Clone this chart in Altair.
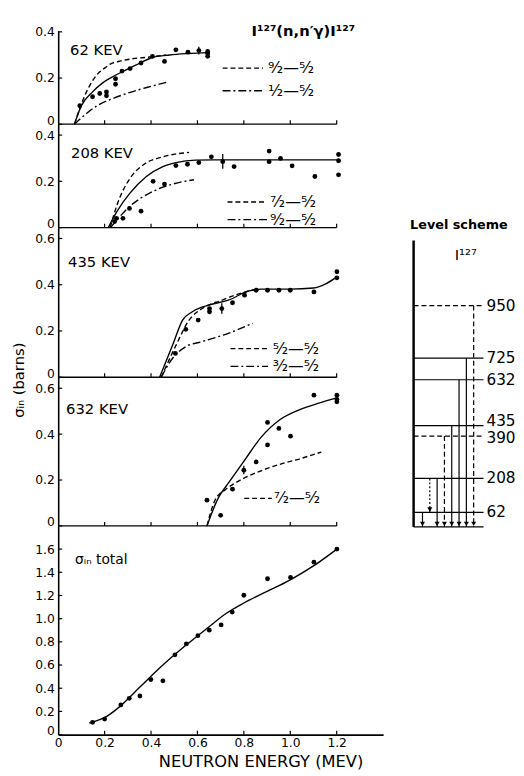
import altair as alt
import pandas as pd

FONT = "DejaVu Sans"
INK = "black"

# ---------------- data (E in MeV, sigma in barns) ----------------
# Panel 1 : 62 keV level
p1_pts_E = [0.093, 0.148, 0.179, 0.208, 0.208, 0.247, 0.247, 0.275, 0.310, 0.357, 0.406, 0.458, 0.507, 0.559, 0.606, 0.644, 0.644, 0.644]
p1_pts_s = [0.080, 0.119, 0.133, 0.140, 0.123, 0.197, 0.173, 0.230, 0.241, 0.265, 0.294, 0.272, 0.322, 0.312, 0.319, 0.315, 0.294, 0.306]
p1_err_E, p1_err_lo, p1_err_hi = [0.606], [0.302], [0.336]
p1_fit_E = [0.07, 0.10, 0.148, 0.19, 0.226, 0.282, 0.352, 0.41, 0.48, 0.56, 0.65]
p1_fit_s = [0.0, 0.08, 0.14, 0.178, 0.201, 0.23, 0.265, 0.29, 0.30, 0.306, 0.31]
p1_a_E = [0.07, 0.09, 0.113, 0.14, 0.169, 0.20, 0.226, 0.27, 0.31, 0.394, 0.465]
p1_a_s = [0.0, 0.06, 0.12, 0.175, 0.217, 0.243, 0.261, 0.274, 0.282, 0.291, 0.30]
p1_b_E = [0.07, 0.12, 0.169, 0.24, 0.31, 0.381, 0.472]
p1_b_s = [0.0, 0.045, 0.081, 0.113, 0.138, 0.159, 0.183]

# Panel 2 : 208 keV level
p2_pts_E = [0.243, 0.251, 0.279, 0.307, 0.357, 0.409, 0.458, 0.507, 0.557, 0.606, 0.660, 0.709, 0.758, 0.909, 0.909, 0.958, 1.008, 1.106, 1.208, 1.208, 1.208]
p2_pts_s = [0.026, 0.040, 0.040, 0.083, 0.071, 0.200, 0.188, 0.268, 0.274, 0.281, 0.306, 0.285, 0.264, 0.331, 0.285, 0.299, 0.267, 0.221, 0.316, 0.289, 0.228]
p2_err_E, p2_err_lo, p2_err_hi = [0.709], [0.254], [0.318]
p2_fit_E = [0.216, 0.254, 0.31, 0.38, 0.451, 0.507, 0.592, 0.70, 0.90, 1.21]
p2_fit_s = [0.0, 0.071, 0.15, 0.221, 0.264, 0.281, 0.292, 0.293, 0.293, 0.293]
p2_a_E = [0.224, 0.254, 0.31, 0.366, 0.451, 0.564]
p2_a_s = [0.0, 0.10, 0.214, 0.271, 0.306, 0.325]
p2_b_E = [0.225, 0.31, 0.409, 0.493, 0.585]
p2_b_s = [0.0, 0.093, 0.157, 0.188, 0.207]

# Panel 3 : 435 keV level
p3_pts_E = [0.505, 0.550, 0.603, 0.652, 0.652, 0.705, 0.751, 0.803, 0.853, 0.902, 0.951, 1.000, 1.102, 1.201, 1.201]
p3_pts_s = [0.103, 0.207, 0.247, 0.297, 0.283, 0.297, 0.322, 0.355, 0.376, 0.376, 0.376, 0.376, 0.369, 0.456, 0.430]
p3_err_E, p3_err_lo, p3_err_hi = [0.705], [0.275], [0.320]
p3_fit_E = [0.437, 0.493, 0.536, 0.578, 0.649, 0.733, 0.818, 0.874, 1.0, 1.10, 1.155, 1.201]
p3_fit_s = [0.0, 0.139, 0.247, 0.283, 0.312, 0.333, 0.372, 0.381, 0.381, 0.386, 0.405, 0.434]
p3_a_E = [0.444, 0.508, 0.564, 0.62, 0.705, 0.796, 0.85]
p3_a_s = [0.0, 0.139, 0.247, 0.297, 0.333, 0.366, 0.38]
p3_b_E = [0.444, 0.493, 0.55, 0.62, 0.733, 0.838]
p3_b_s = [0.0, 0.082, 0.132, 0.154, 0.19, 0.233]

# Panel 4 : 632 keV level
p4_pts_E = [0.641, 0.700, 0.751, 0.800, 0.853, 0.902, 0.902, 0.951, 1.001, 1.102, 1.201, 1.201, 1.201]
p4_pts_s = [0.112, 0.046, 0.160, 0.243, 0.279, 0.451, 0.353, 0.425, 0.391, 0.570, 0.570, 0.551, 0.541]
p4_err_E, p4_err_lo, p4_err_hi = [0.800], [0.225], [0.262]
p4_fit_E = [0.641, 0.69, 0.733, 0.803, 0.874, 0.958, 1.043, 1.127, 1.201]
p4_fit_s = [0.0, 0.122, 0.186, 0.286, 0.386, 0.465, 0.508, 0.536, 0.558]
p4_a_E = [0.641, 0.677, 0.719, 0.761, 0.846, 0.944, 1.043, 1.134]
p4_a_s = [0.0, 0.115, 0.157, 0.186, 0.229, 0.265, 0.293, 0.322]

# Panel 5 : total inelastic cross section
p5_pts_E = [0.148, 0.200, 0.270, 0.306, 0.352, 0.399, 0.451, 0.503, 0.552, 0.602, 0.651, 0.702, 0.750, 0.800, 0.902, 1.001, 1.102, 1.201]
p5_pts_s = [0.106, 0.134, 0.256, 0.313, 0.333, 0.475, 0.464, 0.688, 0.782, 0.853, 0.901, 0.946, 1.057, 1.202, 1.344, 1.356, 1.487, 1.600]
p5_fit_E = [0.134, 0.211, 0.27, 0.352, 0.451, 0.55, 0.65, 0.72, 0.80, 0.90, 1.00, 1.10, 1.201]
p5_fit_s = [0.10, 0.16, 0.25, 0.41, 0.60, 0.77, 0.93, 1.04, 1.135, 1.235, 1.335, 1.455, 1.60]

x_ticks = [0, 0.2, 0.4, 0.6, 0.8, 1.0, 1.2]

# Level scheme of I-127 (keV)
lev_E = [0, 62, 208, 390, 435, 632, 725, 950]
lev_dashed = [False, False, False, True, False, False, False, True]
lev_label = ["", "62", "208", "390", "435", "632", "725", "950"]
tr_lane = [0, 1, 2, 3, 4, 5, 6, 7]
tr_from = [62, 208, 208, 390, 435, 632, 725, 950]
tr_to = [0, 62, 0, 0, 0, 0, 0, 0]
tr_style = ["solid", "dotted", "solid", "dashed", "solid", "solid", "solid", "dashed"]

# ---------------- helpers ----------------
ONE = pd.DataFrame({"k": [0]})
DASH = [5, 3]
DASHDOT = [8, 3, 2, 3]
LBL = "datum.value == 0 ? '0' : format(datum.value, '.1f')"
ZERO_BASE = {"condition": {"test": "datum.value == 0", "value": "alphabetic"}, "value": "middle"}
W = 330


def text(t, x, y, size=15, align="left", angle=0, weight="normal"):
    return alt.Chart(ONE).mark_text(
        text=t, align=align, baseline="middle", font=FONT, fontSize=size,
        color=INK, angle=angle, fontWeight=weight,
    ).encode(x=alt.value(x), y=alt.value(y))


def sample(x1, x2, y, dash):
    return alt.Chart(ONE).mark_rule(color=INK, strokeWidth=1.3, strokeDash=dash).encode(
        x=alt.value(x1), x2=alt.value(x2), y=alt.value(y))


def panel(pE, ps, curves, err, ytop, yvals, height, bottom, extras):
    xs = alt.Scale(domain=[0, 1.4], nice=False)
    ys = alt.Scale(domain=[0, ytop], nice=False)
    if bottom:
        xax = alt.Axis(values=x_ticks, title=None, ticks=False, labelPadding=2, labelFlush=False,
                       domainColor=INK, domainWidth=1.6, grid=False, labelExpr=LBL,
                       labelFont=FONT, labelFontSize=12.5, labelColor=INK)
    else:
        xax = None
    yax = alt.Axis(values=yvals, title=None, ticks=False, labelPadding=4, domainColor=INK,
                   domainWidth=1.6, grid=False, labelExpr=LBL, labelFont=FONT,
                   labelFontSize=12.5, labelColor=INK, labelFlush=False,
                   labelBaseline=ZERO_BASE)

    def X(f):
        return alt.X(f"{f}:Q", scale=xs, axis=xax)

    def Y(f):
        return alt.Y(f"{f}:Q", scale=ys, axis=yax)

    layers = []
    if not bottom:
        base = pd.DataFrame({"E": [0.0], "E2": [1.2], "s": [0.0]})
        layers.append(alt.Chart(base).mark_rule(color=INK, strokeWidth=1.3).encode(
            x=X("E"), x2="E2:Q", y=Y("s")))
    # small inward tick marks on both axes
    layers.append(alt.Chart(pd.DataFrame({"s": yvals})).mark_rule(color=INK, strokeWidth=1.2).encode(
        x=alt.value(0), x2=alt.value(4), y=Y("s")))
    layers.append(alt.Chart(pd.DataFrame({"E": x_ticks[1:]})).mark_rule(color=INK, strokeWidth=1.2).encode(
        x=X("E"), y=alt.value(height), y2=alt.value(height - 4)))
    for cE, cs, dash in curves:
        df = pd.DataFrame({"E": cE, "s": cs})
        kw = {"strokeDash": dash} if dash else {}
        layers.append(alt.Chart(df).mark_line(color=INK, strokeWidth=1.4,
                                              interpolate="monotone", **kw).encode(x=X("E"), y=Y("s")))
    if err:
        edf = pd.DataFrame({"E": err[0], "lo": err[1], "hi": err[2]})
        layers.append(alt.Chart(edf).mark_rule(color=INK, strokeWidth=1.3).encode(
            x=X("E"), y=Y("lo"), y2="hi:Q"))
    pdf = pd.DataFrame({"E": pE, "s": ps})
    layers.append(alt.Chart(pdf).mark_circle(color=INK, size=24, opacity=1).encode(x=X("E"), y=Y("s")))
    layers.extend(extras)
    return alt.layer(*layers).properties(width=W, height=height)


p1 = panel(p1_pts_E, p1_pts_s,
           [(p1_fit_E, p1_fit_s, None), (p1_a_E, p1_a_s, DASH), (p1_b_E, p1_b_s, DASHDOT)],
           (p1_err_E, p1_err_lo, p1_err_hi), 0.405, [0, 0.2, 0.4], 95, False,
           [text("62 KEV", 12, 20),
            text("I¹²⁷(n,n′γ)I¹²⁷", 249, 0, size=15, align="center", weight="bold"),
            sample(167, 208, 38, DASH), text("⁹⁄₂—⁵⁄₂", 213, 38, size=16),
            sample(167, 208, 61, DASHDOT), text("¹⁄₂—⁵⁄₂", 213, 61, size=16)])

p2 = panel(p2_pts_E, p2_pts_s,
           [(p2_fit_E, p2_fit_s, None), (p2_a_E, p2_a_s, DASH), (p2_b_E, p2_b_s, DASHDOT)],
           (p2_err_E, p2_err_lo, p2_err_hi), 0.447, [0, 0.2, 0.4], 105, False,
           [text("208 KEV", 13, 29),
            sample(172, 212, 79, DASH), text("⁷⁄₂—⁵⁄₂", 215, 79, size=16),
            sample(172, 212, 97, DASHDOT), text("⁹⁄₂—⁵⁄₂", 215, 97, size=16)])

p3 = panel(p3_pts_E, p3_pts_s,
           [(p3_fit_E, p3_fit_s, None), (p3_a_E, p3_a_s, DASH), (p3_b_E, p3_b_s, DASHDOT)],
           (p3_err_E, p3_err_lo, p3_err_hi), 0.647, [0, 0.2, 0.4, 0.6], 152, False,
           [text("435 KEV", 10, 35),
            sample(175, 213, 123, DASH), text("⁵⁄₂—⁵⁄₂", 218, 123, size=16),
            sample(175, 213, 141, DASHDOT), text("³⁄₂—⁵⁄₂", 218, 141, size=16),
            text("σᵢₙ (barns)", -40, 155, size=15, align="center", angle=270)])

p4 = panel(p4_pts_E, p4_pts_s,
           [(p4_fit_E, p4_fit_s, None), (p4_a_E, p4_a_s, DASH)],
           (p4_err_E, p4_err_lo, p4_err_hi), 0.648, [0, 0.2, 0.4, 0.6], 151, False,
           [text("632 KEV", 8, 32),
            sample(189, 217, 123, DASH), text("⁷⁄₂—⁵⁄₂", 219, 123, size=16)])

p5 = panel(p5_pts_E, p5_pts_s, [(p5_fit_E, p5_fit_s, None)], None, 1.80,
           [0, 0.2, 0.4, 0.6, 0.8, 1.0, 1.2, 1.4, 1.6], 212, True,
           [text("σᵢₙ total", 17, 35, size=14),
            text("NEUTRON ENERGY (MEV)", 206, 240, size=16.5, align="center")])

main = alt.vconcat(p1, p2, p3, p4, p5, spacing=0, bounds="flush")

# ---------------- level scheme ----------------
ysL = alt.Scale(domain=[0, 2131], nice=False)
xsL = alt.Scale(domain=[-3.37, 12.79], nice=False)
lev = pd.DataFrame({"E": lev_E, "dashed": lev_dashed, "label": lev_label})
tr = pd.DataFrame({"lane": tr_lane, "Ef": tr_from, "Et": tr_to, "style": tr_style})

YL = alt.Y("E:Q", scale=ysL, axis=None)
lv_layers = [
    alt.Chart(lev[~lev.dashed]).mark_rule(color=INK, strokeWidth=1.2).encode(
        x=alt.value(16), x2=alt.value(87), y=YL),
    alt.Chart(lev[lev.dashed]).mark_rule(color=INK, strokeWidth=1.2, strokeDash=[5, 3]).encode(
        x=alt.value(16), x2=alt.value(87), y=YL),
]
styles = {"solid": None, "dotted": [2, 2], "dashed": [5, 3]}
for st, dash in styles.items():
    kw = {"strokeDash": dash} if dash else {}
    lv_layers.append(alt.Chart(tr[tr["style"] == st]).mark_rule(color=INK, strokeWidth=1.2, **kw).encode(
        x=alt.X("lane:Q", scale=xsL, axis=None),
        y=alt.Y("Ef:Q", scale=ysL, axis=None), y2="Et:Q"))
lv_layers.append(alt.Chart(tr).mark_point(shape="triangle-down", filled=True, size=26, color=INK,
                                          opacity=1, yOffset=-3).encode(
    x=alt.X("lane:Q", scale=xsL, axis=None), y=alt.Y("Et:Q", scale=ysL, axis=None)))
lv_layers.append(alt.Chart(pd.DataFrame({"E": [0]})).mark_rule(color=INK, strokeWidth=2.5).encode(
    x=alt.value(16), y=YL, y2=alt.value(213)))
lab = lev[lev.label != ""]
upper = lab[lab.label == "435"]
lower = lab[lab.label == "390"]
rest = lab[~lab.label.isin(["435", "390"])]
for sub, dy in [(rest, 0), (upper, -5), (lower, 2)]:
    lv_layers.append(alt.Chart(sub).mark_text(
        align="left", baseline="middle", font=FONT, fontSize=15.5, color=INK, dy=dy).encode(
        x=alt.value(90), y=YL, text="label:N"))
lv_layers.append(text("Level scheme", 62, 197, size=13, align="center", weight="bold"))
lv_layers.append(text("I¹²⁷", 69, 228, size=15, align="center"))
level = alt.layer(*lv_layers).properties(width=120, height=504)

chart = alt.hconcat(main, level, spacing=15, bounds="full").properties(
    padding={"left": 4, "top": 10, "right": 0, "bottom": 0}
).configure_view(stroke=None)

chart.save("out.html", embed_options={"renderer": "svg", "actions": False})
